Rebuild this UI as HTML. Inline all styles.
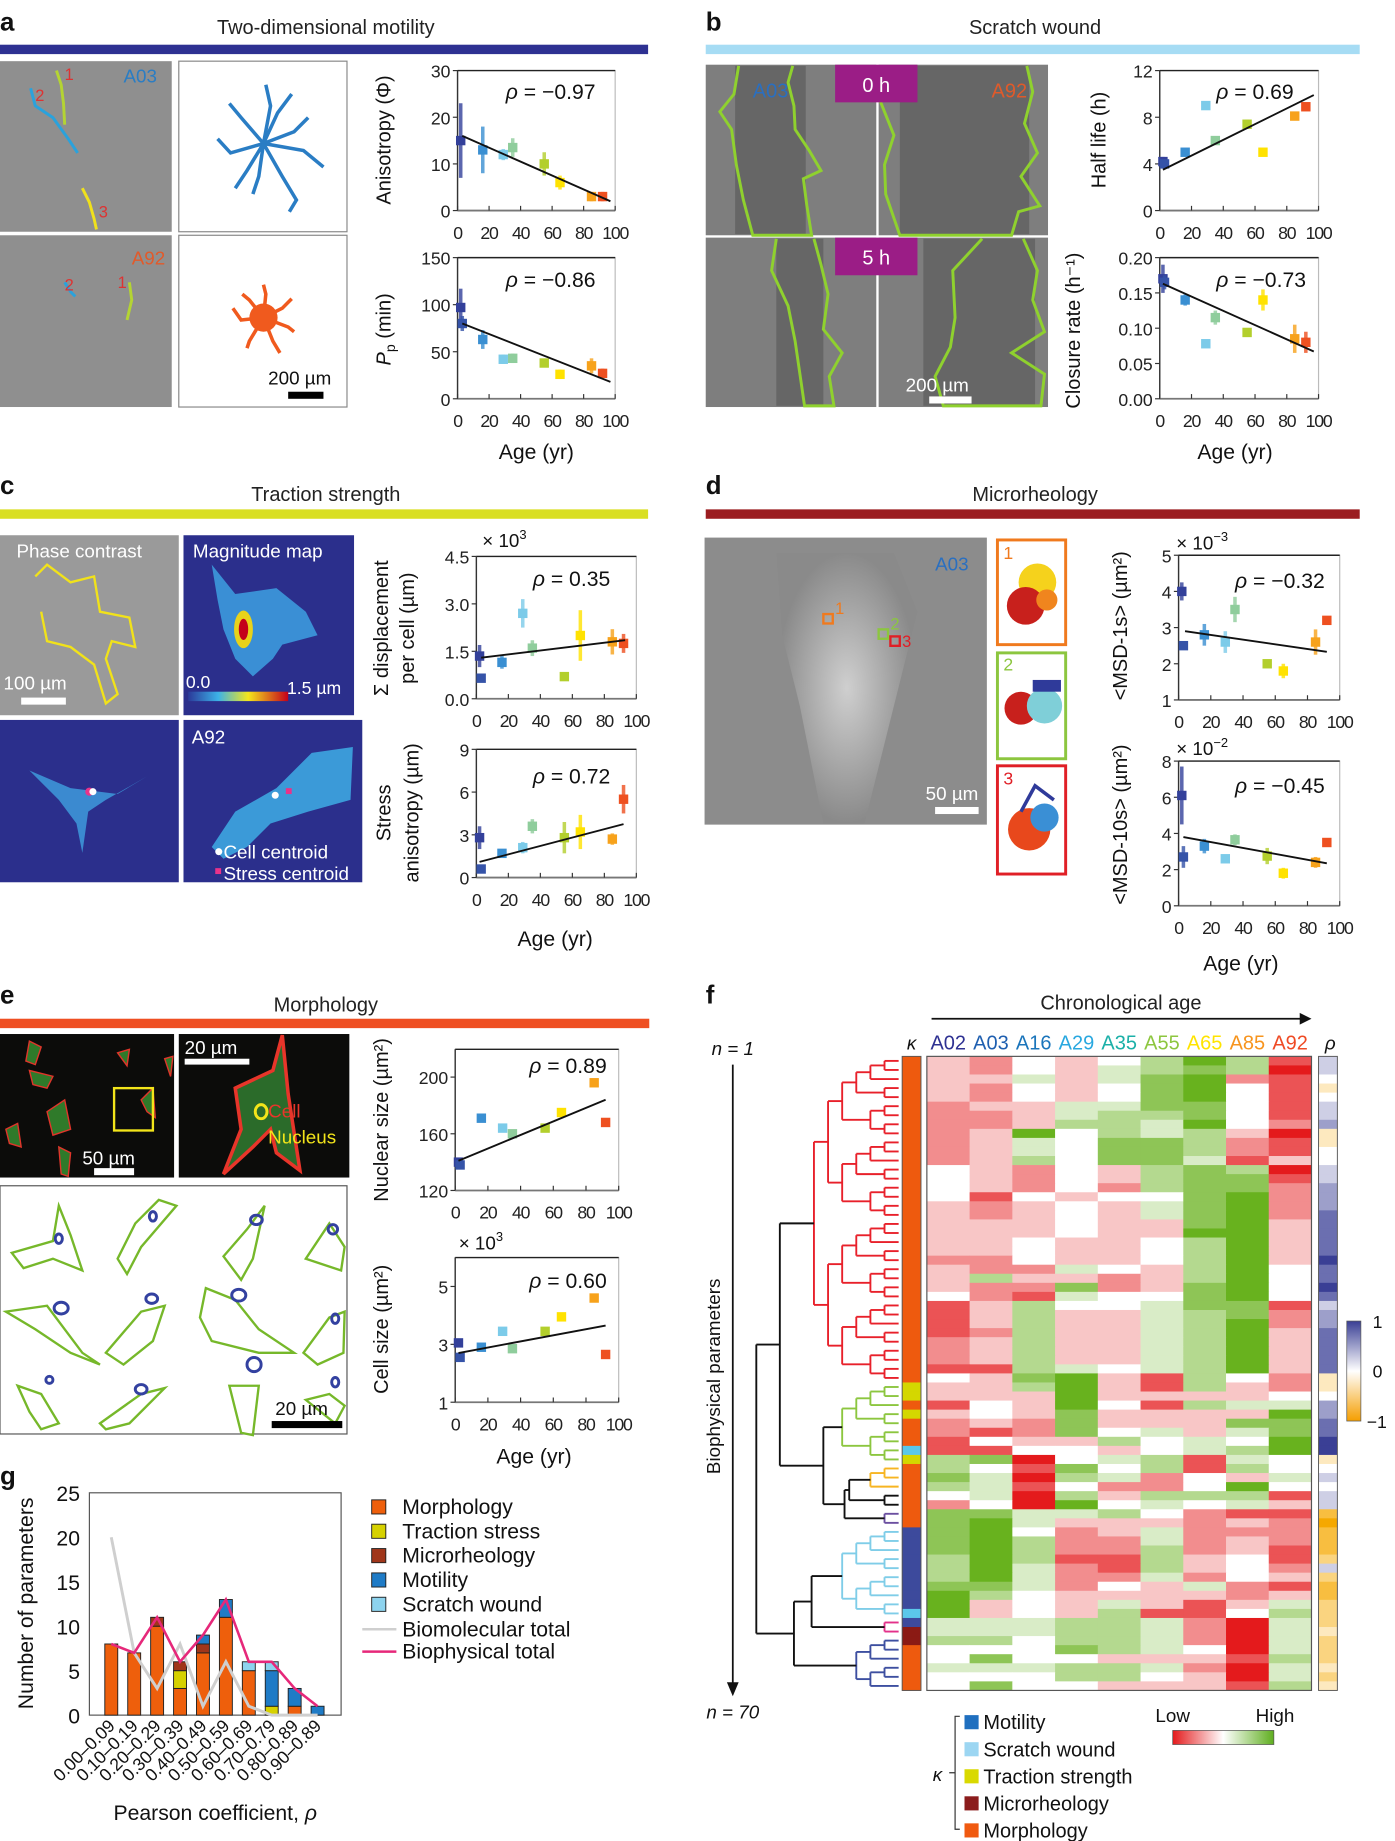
<!DOCTYPE html>
<html><head><meta charset="utf-8"><title>Biophysical ageing figure</title>
<style>
html,body{margin:0;padding:0;background:#fff;}
svg{display:block;font-family:"Liberation Sans Narrow","Liberation Sans",sans-serif;}
.t{font-size:16px;fill:#222;}
.tk{font-size:15px;fill:#222;}
.ttl{font-size:17px;fill:#222;text-anchor:middle;}
.pl{font-size:22px;font-weight:bold;fill:#111;font-family:"Liberation Sans",sans-serif;}
</style></head>
<body>
<svg id="fig" width="1395" height="1841" viewBox="0 0 1186 1565" preserveAspectRatio="none" xmlns="http://www.w3.org/2000/svg">
<defs>
<linearGradient id="gr" x1="0" x2="1" y1="0" y2="0"><stop offset="0" stop-color="#e41a1c"/><stop offset="0.5" stop-color="#ffffff"/><stop offset="1" stop-color="#5fae1f"/></linearGradient>
<linearGradient id="gp" x1="0" x2="0" y1="0" y2="1"><stop offset="0" stop-color="#3a3f95"/><stop offset="0.5" stop-color="#ffffff"/><stop offset="1" stop-color="#f59e00"/></linearGradient>
<linearGradient id="gjet" x1="0" x2="1"><stop offset="0" stop-color="#2b3a9a"/><stop offset="0.3" stop-color="#3cb2e8"/><stop offset="0.6" stop-color="#f4e61c"/><stop offset="1" stop-color="#c4001a"/></linearGradient>
<radialGradient id="gcell" cx="0.5" cy="0.5" r="0.5"><stop offset="0" stop-color="#cfcfcf"/><stop offset="1" stop-color="#8a8a8a"/></radialGradient>
</defs>

<!-- ===== panel a header ===== -->
<text class="pl" x="0" y="26">a</text>
<text class="ttl" x="277" y="29">Two-dimensional motility</text>
<rect x="0" y="38" width="551" height="8" fill="#2e3192"/>
<g>
<rect x="0" y="52" width="146" height="145" fill="#8f8f8f"/>
<polyline points="48,60 52,72 54,88 55,106" fill="none" stroke="#b4d433" stroke-width="2.5"/>
<polyline points="26,75 30,90 45,100 58,118 66,130" fill="none" stroke="#2aa2dc" stroke-width="2.5"/>
<polyline points="70,160 76,172 80,186 82,195" fill="none" stroke="#f0e11c" stroke-width="2.5"/>
<text x="30" y="86" font-size="14" fill="#d33">2</text><text x="55" y="68" font-size="14" fill="#d33">1</text><text x="84" y="185" font-size="14" fill="#d33">3</text>
<text x="105" y="70" font-size="16" fill="#2a7dc4">A03</text>
</g>
<g>
<rect x="152" y="52" width="143" height="145" fill="#fff" stroke="#888" stroke-width="1"/>
<g stroke="#2a7dc4" stroke-width="3" fill="none">
<polyline points="224,122 230,90 226,72"/><polyline points="224,122 250,112 262,100"/><polyline points="224,122 258,128 275,142"/>
<polyline points="224,122 240,150 252,170 246,180"/><polyline points="224,122 210,145 200,160"/><polyline points="224,122 196,130 185,118"/>
<polyline points="224,122 205,100 195,88"/><polyline points="224,122 236,96 248,80"/><polyline points="224,122 220,150 215,165"/>
</g></g>
<g>
<rect x="0" y="200" width="146" height="146" fill="#8f8f8f"/>
<polyline points="55,240 60,248 64,252" fill="none" stroke="#2aa2dc" stroke-width="2.5"/>
<polyline points="110,240 112,255 108,272" fill="none" stroke="#b4d433" stroke-width="2.5"/>
<text x="112" y="225" font-size="16" fill="#e25a2a">A92</text>
<text x="55" y="247" font-size="14" fill="#d33">2</text><text x="100" y="245" font-size="14" fill="#d33">1</text>
</g>
<g>
<rect x="152" y="200" width="143" height="146" fill="#fff" stroke="#888" stroke-width="1"/>
<g stroke="#f05a1e" stroke-width="3" fill="none">
<polyline points="224,270 226,250 224,242"/><polyline points="224,270 240,262 248,254"/><polyline points="224,270 245,278 250,282"/>
<polyline points="224,270 232,290 238,300"/><polyline points="224,270 212,290 210,296"/><polyline points="224,270 205,272 198,262"/>
<polyline points="224,270 212,255 206,250"/><circle cx="224" cy="270" r="12" fill="#f05a1e" stroke="none"/>
</g>
<text x="228" y="327" font-size="16" fill="#111">200 µm</text>
<rect x="245" y="333" width="30" height="6" fill="#000"/>
</g>

<!-- ===== panel b header ===== -->
<text class="pl" x="600" y="26">b</text>
<text class="ttl" x="880" y="29">Scratch wound</text>
<rect x="600" y="38" width="556" height="8" fill="#a6dcf4"/>
<g>
<rect x="600" y="55" width="145" height="145" fill="#7e7e7e"/>
<rect x="747" y="55" width="144" height="145" fill="#7e7e7e"/>
<rect x="600" y="202" width="145" height="144" fill="#7e7e7e"/>
<rect x="747" y="202" width="144" height="144" fill="#7e7e7e"/>
<rect x="625" y="56" width="60" height="143" fill="#666"/>
<rect x="765" y="56" width="110" height="143" fill="#666"/>
<rect x="660" y="203" width="40" height="142" fill="#666"/>
<rect x="785" y="203" width="95" height="142" fill="#666"/>
<g fill="none" stroke="#8fd12e" stroke-width="2.5">
<polyline points="628,56 624,80 612,95 622,110 626,140 632,170 640,200 690,200 686,175 683,152 698,145 688,128 676,110 675,90 670,70 674,56 Z"/>
<polyline points="755,56 758,70 748,85 760,115 752,140 753,165 765,200 860,200 866,180 884,175 868,150 882,130 871,105 878,78 873,56 Z"/>
<polyline points="660,203 656,230 670,260 676,290 684,345 709,345 705,320 716,300 700,280 704,250 698,225 692,203 Z"/>
<polyline points="835,203 810,230 812,270 808,295 795,320 802,345 885,345 888,318 860,300 888,282 878,255 882,230 870,203 Z"/>
</g>
<rect x="710" y="55" width="70" height="32" fill="#9b1d86"/>
<text x="745" y="78" font-size="17" fill="#fff" text-anchor="middle">0 h</text>
<rect x="710" y="202" width="70" height="32" fill="#9b1d86"/>
<text x="745" y="225" font-size="17" fill="#fff" text-anchor="middle">5 h</text>
<text x="640" y="83" font-size="17" fill="#2a6fc0">A03</text>
<text x="843" y="83" font-size="17" fill="#e05a2a">A92</text>
<text x="770" y="333" font-size="16" fill="#fff">200 µm</text>
<rect x="790" y="337" width="36" height="6" fill="#fff"/>
</g>

<!-- ===== panel c header ===== -->
<text class="pl" x="0" y="420">c</text>
<text class="ttl" x="277" y="426">Traction strength</text>
<rect x="0" y="433" width="551" height="8" fill="#d9df23"/>
<g>
<rect x="0" y="455" width="152" height="153" fill="#9a9a9a"/>
<polyline points="30,490 40,480 60,495 80,490 85,520 110,525 115,550 95,545 90,560 100,590 90,598 80,565 60,550 40,545 35,520 Z" fill="none" stroke="#f1e21a" stroke-width="2"/>
<text x="14" y="474" font-size="16" fill="#fff">Phase contrast</text>
<text x="3" y="586" font-size="16" fill="#fff">100 µm</text>
<rect x="18" y="593" width="38" height="6" fill="#fff"/>
<rect x="156" y="455" width="145" height="153" fill="#2b2f8c"/>
<polygon points="180,480 200,505 235,500 260,520 270,540 240,548 232,560 215,575 200,560 190,535 185,510" fill="#3a8fd5"/>
<ellipse cx="207" cy="535" rx="8" ry="16" fill="#e8d21a"/><ellipse cx="207" cy="535" rx="4" ry="9" fill="#c4001a"/>
<text x="164" y="474" font-size="16" fill="#fff">Magnitude map</text>
<rect x="160" y="588" width="85" height="8" fill="url(#gjet)"/>
<text x="158" y="585" font-size="15" fill="#fff">0.0</text><text x="244" y="590" font-size="15" fill="#fff">1.5 µm</text>
<rect x="0" y="612" width="152" height="138" fill="#2b2f8c"/>
<polygon points="25,655 60,670 100,675 125,660 90,680 75,690 70,725 65,700 50,680" fill="#3b8ad0"/>
<circle cx="76" cy="673" r="3.5" fill="#e8338a"/><circle cx="79" cy="673" r="3" fill="#fff"/>
<rect x="156" y="612" width="152" height="138" fill="#2b2f8c"/>
<polygon points="180,720 200,690 235,670 265,640 300,635 298,680 262,690 230,700 210,720 190,730" fill="#3b9ad8"/>
<circle cx="234" cy="676" r="3" fill="#fff"/><rect x="243" y="670" width="5" height="5" fill="#e8338a"/>
<text x="163" y="632" font-size="16" fill="#fff">A92</text>
<circle cx="186" cy="724" r="3" fill="#fff"/><text x="190" y="730" font-size="16" fill="#fff">Cell centroid</text>
<rect x="183" y="738" width="5" height="5" fill="#e8338a"/><text x="190" y="748" font-size="16" fill="#fff">Stress centroid</text>
</g>

<!-- ===== panel d header ===== -->
<text class="pl" x="600" y="420">d</text>
<text class="ttl" x="880" y="426">Microrheology</text>
<rect x="600" y="433" width="556" height="8" fill="#9b1c20"/>
<g>
<rect x="599" y="457" width="240" height="244" fill="#8c8c8c"/>
<polygon points="660,470 760,470 780,520 760,600 735,700 700,700 680,600 665,540" fill="url(#gcell)"/>
<text x="795" y="485" font-size="16" fill="#2a6fc0">A03</text>
<rect x="700" y="522" width="8" height="8" fill="none" stroke="#f07a1e" stroke-width="2"/><text x="710" y="522" font-size="14" fill="#f07a1e">1</text>
<rect x="747" y="535" width="8" height="8" fill="none" stroke="#8cc63f" stroke-width="2"/><text x="757" y="535" font-size="14" fill="#8cc63f">2</text>
<rect x="757" y="541" width="8" height="8" fill="none" stroke="#e01f26" stroke-width="2"/><text x="767" y="550" font-size="14" fill="#e01f26">3</text>
<text x="787" y="680" font-size="16" fill="#fff">50 µm</text><rect x="795" y="686" width="37" height="6" fill="#fff"/>
<rect x="848" y="459" width="58" height="89" fill="#fff" stroke="#f07a1e" stroke-width="2.5"/>
<circle cx="882" cy="495" r="16" fill="#f5d21c"/><circle cx="872" cy="515" r="16" fill="#c8201c"/><circle cx="890" cy="510" r="9" fill="#f0851e"/>
<text x="853" y="475" font-size="15" fill="#f07a1e">1</text>
<rect x="848" y="555" width="58" height="90" fill="#fff" stroke="#8cc63f" stroke-width="2.5"/>
<circle cx="868" cy="602" r="14" fill="#c8201c"/><circle cx="888" cy="600" r="15" fill="#7fcfd8"/><rect x="878" y="578" width="24" height="10" fill="#2f3a9a"/>
<text x="853" y="570" font-size="15" fill="#8cc63f">2</text>
<rect x="848" y="651" width="58" height="92" fill="#fff" stroke="#e01f26" stroke-width="2.5"/>
<circle cx="875" cy="705" r="18" fill="#e8481c"/><circle cx="888" cy="695" r="12" fill="#3a8fd5"/><polyline points="868,690 880,668 896,680" fill="none" stroke="#2f3a9a" stroke-width="3"/>
<text x="853" y="667" font-size="15" fill="#e01f26">3</text>
</g>

<!-- ===== panel e header ===== -->
<text class="pl" x="0" y="853">e</text>
<text class="ttl" x="277" y="860">Morphology</text>
<rect x="0" y="866" width="552" height="8" fill="#ef4f22"/>
<g>
<rect x="0" y="879" width="148" height="122" fill="#0c0c0a"/>
<g fill="#2f7a2a" stroke="#e0352a" stroke-width="1.2">
<polygon points="25,885 35,890 30,905 22,902"/><polygon points="25,910 45,915 40,925 28,922"/><polygon points="40,945 55,935 60,960 45,965"/>
<polygon points="100,895 110,892 108,906"/><polygon points="140,900 147,898 145,915"/><polygon points="120,935 130,925 132,950 125,945"/>
<polygon points="5,960 15,955 18,975 8,972"/><polygon points="50,975 60,980 58,1000 52,998"/>
</g>
<rect x="97" y="925" width="33" height="36" fill="none" stroke="#f3e51a" stroke-width="2"/>
<text x="70" y="990" font-size="16" fill="#fff">50 µm</text><rect x="80" y="993" width="34" height="6" fill="#fff"/>
<rect x="152" y="879" width="145" height="122" fill="#0c0c0a"/>
<polygon points="200,925 232,910 240,880 245,930 255,995 235,980 230,960 215,975 190,998 205,960" fill="#2b6b2a" stroke="#e8352a" stroke-width="3"/>
<ellipse cx="222" cy="945" rx="5" ry="6" fill="none" stroke="#f3e51a" stroke-width="2.5"/>
<text x="157" y="896" font-size="16" fill="#fff">20 µm</text><rect x="157" y="900" width="55" height="5" fill="#fff"/>
<text x="228" y="950" font-size="16" fill="#e8352a">Cell</text>
<text x="228" y="972" font-size="16" fill="#f3e51a">Nucleus</text>
<rect x="0" y="1008" width="295" height="211" fill="#fff" stroke="#555" stroke-width="1"/>
<g fill="none" stroke="#76b82a" stroke-width="2">
<polygon points="10,1065 45,1055 50,1025 60,1050 70,1080 45,1070 20,1078"/><polygon points="100,1070 115,1040 135,1020 150,1025 120,1060 108,1083"/>
<polygon points="190,1068 210,1045 225,1025 215,1070 205,1088"/><polygon points="260,1070 280,1040 293,1060 290,1080 275,1075"/>
<polygon points="5,1115 40,1110 70,1150 85,1160 60,1150 30,1130"/><polygon points="90,1150 120,1115 140,1110 130,1140 105,1160"/>
<polygon points="175,1095 200,1105 220,1130 250,1150 220,1150 180,1140 170,1120"/><polygon points="258,1150 280,1120 293,1115 292,1150 270,1160"/>
<polygon points="15,1178 35,1185 50,1210 35,1215 25,1200"/><polygon points="85,1210 120,1185 140,1180 110,1210 90,1215"/>
<polygon points="195,1178 220,1178 215,1220 205,1218"/><polygon points="260,1190 280,1185 293,1195 285,1210"/>
</g>
<g fill="none" stroke="#3341a0" stroke-width="2.5">
<ellipse cx="50" cy="1053" rx="3" ry="4"/><ellipse cx="130" cy="1034" rx="3" ry="4"/><ellipse cx="218" cy="1037" rx="5" ry="4"/><ellipse cx="283" cy="1045" rx="4" ry="4"/>
<ellipse cx="52" cy="1112" rx="6" ry="5"/><ellipse cx="129" cy="1104" rx="5" ry="4"/><ellipse cx="203" cy="1101" rx="6" ry="5"/><ellipse cx="285" cy="1121" rx="3" ry="4"/>
<ellipse cx="42" cy="1173" rx="3" ry="3"/><ellipse cx="120" cy="1181" rx="5" ry="4"/><ellipse cx="216" cy="1160" rx="6" ry="6"/><ellipse cx="285" cy="1175" rx="3" ry="4"/>
</g>
<text x="234" y="1203" font-size="16" fill="#111">20 µm</text><rect x="231" y="1208" width="60" height="6" fill="#000"/>
</g>

<g id="charts"></g>
<g id="gchart"></g>
<g id="heat"></g>

<!-- ===== panel f static ===== -->
<text class="pl" x="600" y="853">f</text>
<text class="ttl" x="953" y="858">Chronological age</text>
<line x1="792" y1="866" x2="1108" y2="866" stroke="#111" stroke-width="1.5"/>
<polygon points="1115,866 1105,861 1105,871" fill="#111"/>
<text x="775" y="892" font-size="16" text-anchor="middle" font-style="italic" fill="#111">κ</text>
<text x="1131" y="892" font-size="16" text-anchor="middle" font-style="italic" fill="#111">ρ</text>
<text x="623" y="897" font-size="16" text-anchor="middle" font-style="italic" fill="#111">n = 1</text>
<line x1="623" y1="905" x2="623" y2="1432" stroke="#111" stroke-width="1.5"/>
<polygon points="623,1442 618,1430 628,1430" fill="#111"/>
<text x="623" y="1461" font-size="16" text-anchor="middle" font-style="italic" fill="#111">n = 70</text>
<text transform="translate(612,1170) rotate(-90)" font-size="16" text-anchor="middle" fill="#111">Biophysical parameters</text>
<rect x="1145" y="1123" width="12" height="85" fill="url(#gp)" stroke="#555" stroke-width="0.6"/>
<text x="1167" y="1129" font-size="15" fill="#111">1</text>
<text x="1167" y="1171" font-size="15" fill="#111">0</text>
<text x="1162" y="1214" font-size="15" fill="#111">−1</text>
<text x="997" y="1464" font-size="16" text-anchor="middle" fill="#111">Low</text>
<text x="1084" y="1464" font-size="16" text-anchor="middle" fill="#111">High</text>
<rect x="997" y="1471" width="86" height="12" fill="url(#gr)" stroke="#555" stroke-width="0.6"/>
<g>
<path d="M816,1459 h-4 v96 h4 M812,1507 h-5" fill="none" stroke="#333" stroke-width="1"/>
<text x="793" y="1514" font-size="16" font-style="italic" fill="#111">κ</text>
<rect x="820" y="1458" width="12" height="12" fill="#1f6fbf"/><text x="836" y="1470" font-size="17" fill="#111">Motility</text>
<rect x="820" y="1481" width="12" height="12" fill="#9cd6f2"/><text x="836" y="1493" font-size="17" fill="#111">Scratch wound</text>
<rect x="820" y="1504" width="12" height="12" fill="#d9d900"/><text x="836" y="1516" font-size="17" fill="#111">Traction strength</text>
<rect x="820" y="1527" width="12" height="12" fill="#8b1c1c"/><text x="836" y="1539" font-size="17" fill="#111">Microrheology</text>
<rect x="820" y="1550" width="12" height="12" fill="#f05a10"/><text x="836" y="1562" font-size="17" fill="#111">Morphology</text>
</g>
<text class="pl" x="0" y="1262">g</text>
</svg>

<script>
// ======= scatter chart data =======
const ages = [2, 3, 16, 29, 35, 55, 65, 85, 92];
const ageColors = ['#33409a','#3553a8','#3a8fd2','#7ccbe9','#8fcd9c','#b3cf2c','#ffe200','#f7a21b','#ee5020'];
const xTicks = [0, 20, 40, 60, 80, 100];

const anisoVals = [15, null, 13, 12, 13.5, 10, 6, 3, 3];
const anisoErr  = [8, 0, 5, 1.2, 2, 2.5, 1.5, 1, 1];
const anisoFit  = [3, 16, 97, 2];
const ppVals = [97, 80, 63, 42, 43, 38, 26, 35, 27];
const ppErr  = [20, 8, 10, 5, 5, 4, 5, 8, 5];
const ppFit  = [3, 80, 97, 18];
const halfVals = [4.2, 4.0, 5.0, 9.0, 6.0, 7.4, 5.0, 8.1, 8.9];
const halfErr  = [0.4, 0.3, 0.3, 0.3, 0.3, 0.4, 0.3, 0.3, 0.3];
const halfFit  = [2, 3.5, 97, 9.9];
const closeVals = [0.17, 0.165, 0.14, 0.078, 0.115, 0.094, 0.14, 0.085, 0.08];
const closeErr  = [0.02, 0.01, 0.008, 0.006, 0.01, 0.006, 0.015, 0.02, 0.015];
const closeFit  = [2, 0.163, 97, 0.067];
const dispVals = [1.35, 0.65, 1.15, 2.7, 1.6, 0.7, 2.0, 1.8, 1.75];
const dispErr  = [0.35, 0.1, 0.2, 0.45, 0.25, 0.12, 0.8, 0.4, 0.3];
const dispFit  = [3, 1.3, 93, 1.85];
const stressVals = [2.8, 0.6, 1.7, 2.1, 3.6, 2.8, 3.2, 2.7, 5.5];
const stressErr  = [0.8, 0.2, 0.3, 0.4, 0.5, 1.1, 1.2, 0.4, 1.0];
const stressFit  = [2, 1.1, 92, 3.75];
const msd1Vals = [4.0, 2.5, 2.8, 2.6, 3.5, 2.0, 1.8, 2.6, 3.2];
const msd1Err  = [0.25, 0.08, 0.3, 0.3, 0.35, 0.1, 0.2, 0.35, 0.12];
const msd1Fit  = [4, 2.9, 92, 2.33];
const msd10Vals = [6.1, 2.7, 3.3, 2.6, 3.65, 2.75, 1.8, 2.4, 3.5];
const msd10Err  = [1.6, 0.6, 0.4, 0.2, 0.3, 0.45, 0.3, 0.3, 0.2];
const msd10Fit  = [3, 3.8, 92, 2.35];
const nucVals = [140, 138, 171, 164, 160, 164, 175, 196, 168];
const nucErr  = [2, 2, 2, 2, 2, 2.5, 3, 3, 2];
const nucFit  = [2, 141, 92, 184];
const cellVals = [3.05, 2.55, 2.9, 3.45, 2.85, 3.45, 3.95, 4.6, 2.65];
const cellErr  = [0.08, 0.08, 0.08, 0.08, 0.08, 0.12, 0.15, 0.15, 0.08];
const cellFit  = [2, 2.7, 92, 3.65];

// ======= histogram (g) data =======
const gCats = ['0.00–0.09','0.10–0.19','0.20–0.29','0.30–0.39','0.40–0.49','0.50–0.59','0.60–0.69','0.70–0.79','0.80–0.89','0.90–0.89'];
const gMorph   = [8, 7, 10, 3, 7, 11, 5, 0, 1, 0];
const gTrac    = [0, 0, 0, 2, 0, 0, 0, 1, 0, 0];
const gMicro   = [0, 0, 1, 1, 1, 0, 0, 0, 0, 0];
const gMot     = [0, 0, 0, 0, 1, 2, 0, 4, 2, 1];
const gScratch = [0, 0, 0, 0, 0, 0, 1, 1, 0, 0];
const gBiomol  = [20, 7, 3, 8, 1, 6, 1, 0, 0, 0];
const gYTicks  = [0, 5, 10, 15, 20, 25];

// ======= heatmap (f) data: 0 = low (red), 4 = mid (white), 8 = high (green) =======
const heatCols = ['A02','A03','A16','A29','A35','A55','A65','A85','A92'];
const heatColColors = ['#2e3192','#1f5fb0','#1b75bb','#29a8e0','#1bb0a8','#8dc63f','#ffe400','#f7941d','#ef4a24'];
const heatRows = [
'324346861','324356760','335357821','324347841','324347841','233557741','223566741','223665842',
'238465630','235477621','235477621','236477513','432436760','432436771','432426772','414344782',
'323435782','323435782','333433783','333433883','334334683','334334683','224334683','322543684',
'363323684','322723784','421544784','136445771','136335672','136335682','126335683','236335683',
'236335683','236335683','116545683','437831642','336831632','333833334','143841655','343733338',
'232733377','212745357','143364548','114434568','670456154','641746164','750652435','651422484',
'450636661','240845453','775564211','785333232','784235222','786225232','786226231','686116341',
'685216342','685225243','775243521','864333323','834353135','834361146','555665205','555665205',
'664665205','444765405','474433316','555665205','444664305','474433316'];
const kappaRows = 'MMMMMMMMMMMMMMMMMMMMMMMMMMMMMMMMMMMMTTMTMMMSTMMMMMMMLLLLLLLLLSLRRMMMMM';
const rhoRows = [5,5,4,3,4,5,5,6,3,3,4,4,5,5,6,6,6,7,7,7,7,7,8,7,7,8,7,5,6,6,7,7,7,7,7,3,3,4,6,6,7,7,8,8,3,4,5,4,5,5,1,0,1,1,1,2,5,2,1,1,2,2,2,3,2,2,2,3,2,3];

// ======= drawing =======
const NS = 'http://www.w3.org/2000/svg';
function mk(tag, attrs, parent){ const e=document.createElementNS(NS,tag); for(const k in attrs) e.setAttribute(k,attrs[k]); parent.appendChild(e); return e; }
function mkText(str, attrs, parent){ const e=mk('text',attrs,parent); e.textContent=str; return e; }

const chartsG = document.getElementById('charts');

function scatter(name, geo, ymin, ymax, yTicks, yFmt, vals, errs, fit, rho, opts){
  const g = mk('g', {}, chartsG);
  
  
  const sx = v => geo.L + (v/100)*(geo.R-geo.L);
  const sy = v => geo.B - (v-ymin)/(ymax-ymin)*(geo.B-geo.T);
  const frame = mk('rect', {x:geo.L, y:geo.T, width:geo.R-geo.L, height:geo.B-geo.T, fill:'none', stroke:'#bbb', 'stroke-width':1}, g);
  
  
  const topLine = mk('line', {x1:geo.L, y1:geo.T, x2:geo.R, y2:geo.T, stroke:'#222', 'stroke-width':1.2}, g);
  
  
  const yax = mk('line', {x1:geo.L, y1:geo.T, x2:geo.L, y2:geo.B, stroke:'#333', 'stroke-width':1.2}, g);
  
  
  const xax = mk('line', {x1:geo.L, y1:geo.B, x2:geo.R, y2:geo.B, stroke:'#777', 'stroke-width':1.5}, g);
  
  
  yTicks.forEach(t => {
    const tl = mkText(yFmt(t), {x:geo.L-6, y:sy(t)+6, 'text-anchor':'end', class:'tk', 'font-size':17}, g);
    
    
    const tm = mk('line', {x1:geo.L-4, y1:sy(t), x2:geo.L, y2:sy(t), stroke:'#333'}, g);
    
    
  });
  xTicks.forEach(t => {
    const tl = mkText(String(t), {x:sx(t), y:geo.B+24, 'text-anchor':'middle', class:'tk', 'font-size':17, 'letter-spacing':'-1'}, g);
    
    
    const tm = mk('line', {x1:sx(t), y1:geo.B, x2:sx(t), y2:geo.B-4, stroke:'#333'}, g);
    
    
  });
  vals.forEach((v,i) => {
    if (v === null) return;
    const c = ageColors[i];
    const eb = mk('line', {x1:sx(ages[i]), y1:sy(v-errs[i]), x2:sx(ages[i]), y2:sy(v+errs[i]), stroke:c, 'stroke-width':3, opacity:0.8}, g);
    
    
    const pt = mk('rect', {x:sx(ages[i])-4, y:sy(v)-4, width:8, height:8, fill:c}, g);
    
    
  });
  const fl = mk('line', {x1:sx(fit[0]), y1:sy(fit[1]), x2:sx(fit[2]), y2:sy(fit[3]), stroke:'#111', 'stroke-width':1.6}, g);
  
  
  const rt = mkText('', {x:opts.rx, y:opts.ry, 'font-size':18, fill:'#111'}, g);
  
  
  const ri = mk('tspan', {'font-style':'italic'}, rt); ri.textContent='ρ';
  const rv = mk('tspan', {}, rt); rv.textContent=' = '+rho;
  (opts.ylab||[]).forEach(l => {
    const yl = mkText(l[0], {transform:'translate('+l[1]+','+l[2]+') rotate(-90)', 'text-anchor':'middle', 'font-size':17, fill:'#111'}, g);
    
    
    if (l[3]) {
      yl.textContent = '';
      const a = mk('tspan', {'font-style':'italic'}, yl); a.textContent = 'P';
      const b = mk('tspan', {dy:4, 'font-size':12}, yl); b.textContent = 'p';
      const c = mk('tspan', {dy:-4}, yl); c.textContent = ' (min)';
    }
  });
  if (opts.mult){
    const mt = mkText('× 10', {x:opts.mult[0], y:opts.mult[1], 'font-size':16, fill:'#111'}, g);
    
    
    const sp = mk('tspan', {dy:-7, 'font-size':11}, mt); sp.textContent = opts.mult[2];
  }
  if (opts.age){
    const at = mkText('Age (yr)', {x:opts.age[0], y:opts.age[1], 'text-anchor':'middle', 'font-size':18, fill:'#111'}, g);
    
    
  }
}
const f0 = t => String(t);
scatter('anisotropy-chart', {L:389,R:523,T:60,B:179}, 0, 30, [0,10,20,30], f0, anisoVals, anisoErr, anisoFit, '−0.97', {rx:430, ry:84, ylab:[['Anisotropy (Φ)',332,119]]});
scatter('persistence-chart', {L:389,R:523,T:219,B:339}, 0, 150, [0,50,100,150], f0, ppVals, ppErr, ppFit, '−0.86', {rx:430, ry:244, ylab:[['Pp (min)',332,280,true]], age:[456,390]});
scatter('half-life-chart', {L:986,R:1121,T:60,B:179}, 0, 12, [0,4,8,12], f0, halfVals, halfErr, halfFit, '0.69', {rx:1034, ry:84, ylab:[['Half life (h)',940,119]]});
scatter('closure-rate-chart', {L:986,R:1121,T:219,B:339}, 0, 0.2, [0,0.05,0.1,0.15,0.2], t=>t.toFixed(2), closeVals, closeErr, closeFit, '−0.73', {rx:1034, ry:244, ylab:[['Closure rate (h⁻¹)',918,281]], age:[1050,390]});
scatter('displacement-chart', {L:405,R:541,T:473,B:594}, 0, 4.5, [0,1.5,3,4.5], t=>t.toFixed(1), dispVals, dispErr, dispFit, '0.35', {rx:453, ry:498, mult:[410,465,'3'], ylab:[['Σ displacement',330,534],['per cell (µm)',352,534]]});
scatter('stress-anisotropy-chart', {L:405,R:541,T:637,B:746}, 0, 9, [0,3,6,9], f0, stressVals, stressErr, stressFit, '0.72', {rx:453, ry:666, ylab:[['Stress',332,691],['anisotropy (µm)',356,691]], age:[472,804]});
scatter('msd-1s-chart', {L:1002,R:1139,T:472,B:595}, 1, 5, [1,2,3,4,5], f0, msd1Vals, msd1Err, msd1Fit, '−0.32', {rx:1050, ry:500, mult:[1000,467,'−3'], ylab:[['<MSD-1s> (µm²)',958,532]]});
scatter('msd-10s-chart', {L:1002,R:1139,T:647,B:770}, 0, 8, [0,2,4,6,8], f0, msd10Vals, msd10Err, msd10Fit, '−0.45', {rx:1050, ry:674, mult:[1000,642,'−2'], ylab:[['<MSD-10s> (µm²)',958,701]], age:[1055,825]});
scatter('nuclear-size-chart', {L:387,R:526,T:892,B:1012}, 120, 219.6, [120,160,200], f0, nucVals, nucErr, nucFit, '0.89', {rx:450, ry:912, ylab:[['Nuclear size (µm²)',330,952]]});
scatter('cell-size-chart', {L:387,R:526,T:1069,B:1192}, 1, 6, [1,3,5], f0, cellVals, cellErr, cellFit, '0.60', {rx:450, ry:1095, mult:[390,1062,'3'], ylab:[['Cell size (µm²)',330,1130]], age:[454,1244]});

// ======= histogram g =======
(function(){
  const g = document.getElementById('gchart');
  const L=76, R=290, T=1269, B=1458, ymax=25;
  const sy = v => B - v/ymax*(B-T);
  const step = (270-94.6)/(gCats.length-1);
  const cx = i => 94.6 + i*step;
  const frame = mk('rect', {x:L, y:T, width:R-L, height:B-T, fill:'none', stroke:'#555', 'stroke-width':1}, g);
  
  
  gYTicks.forEach(t => {
    const tl = mkText(String(t), {x:L-8, y:sy(t)+7, 'text-anchor':'end', 'font-size':18, fill:'#111'}, g);
    
    
  });
  const series = [[gMorph,'#ee5f0c','morphology'],[gTrac,'#d6d100','traction'],[gMicro,'#a0361a','microrheology'],[gMot,'#1f7bc6','motility'],[gScratch,'#8dd3ee','scratch']];
  gCats.forEach((c,i) => {
    let acc = 0;
    series.forEach(s => {
      const v = s[0][i];
      if (v > 0){
        const r = mk('rect', {x:cx(i)-5.5, y:sy(acc+v), width:11, height:sy(acc)-sy(acc+v), fill:s[1], stroke:'#222', 'stroke-width':0.8}, g);
        
        
      }
      acc += v;
    });
    const tl = mkText(c, {transform:'translate('+(cx(i)+4)+','+(B+10)+') rotate(-45)', 'text-anchor':'end', 'font-size':15, fill:'#111'}, g);
    
    
  });
  const bioPts = gBiomol.map((v,i) => cx(i)+','+sy(v)).join(' ');
  const bl = mk('polyline', {points:bioPts, fill:'none', stroke:'#cfcfcf', 'stroke-width':2.5}, g);
  
  
  const tot = gCats.map((c,i) => gMorph[i]+gTrac[i]+gMicro[i]+gMot[i]+gScratch[i]);
  const phPts = tot.map((v,i) => cx(i)+','+sy(v)).join(' ');
  const pl = mk('polyline', {points:phPts, fill:'none', stroke:'#e6287a', 'stroke-width':2.2}, g);
  
  
  const yt = mkText('Number of parameters', {transform:'translate(28,1363) rotate(-90)', 'text-anchor':'middle', 'font-size':18, fill:'#111'}, g);
  
  
  const xt = mkText('Pearson coefficient, ', {x:183, y:1547, 'text-anchor':'middle', 'font-size':18, fill:'#111'}, g);
  
  
  const xr = mk('tspan', {'font-style':'italic'}, xt); xr.textContent='ρ';
  const legItems = [['Morphology','#ee5f0c'],['Traction stress','#d6d100'],['Microrheology','#a0361a'],['Motility','#1f7bc6'],['Scratch wound','#8dd3ee']];
  legItems.forEach((it,k) => {
    const y = 1281 + k*20.7;
    const sq = mk('rect', {x:316, y:y-6, width:12, height:12, fill:it[1], stroke:'#222', 'stroke-width':0.8}, g);
    
    
    const lt = mkText(it[0], {x:342, y:y+6, 'font-size':18, fill:'#111'}, g);
    
    
  });
  [['Biomolecular total','#cfcfcf',1385],['Biophysical total','#e6287a',1404]].forEach((it,k) => {
    const ln = mk('line', {x1:308, y1:it[2], x2:337, y2:it[2], stroke:it[1], 'stroke-width':2.2}, g);
    
    
    const lt = mkText(it[0], {x:342, y:it[2]+6, 'font-size':18, fill:'#111'}, g);
    
    
  });
})();

// ======= heatmap f =======
(function(){
  const g = document.getElementById('heat');
  const HL=788, HR=1115, HT=898, HB=1437;
  const nR = heatRows.length, nC = heatCols.length;
  const cw = (HR-HL)/nC, rh = (HB-HT)/nR;
  function mix(a,b,t){ return 'rgb('+a.map((v,i)=>Math.round(v+(b[i]-v)*t)).join(',')+')'; }
  const cRed=[228,26,28], cWhite=[255,255,255], cGreen=[104,178,30];
  const heatColor = d => d < 4 ? mix(cRed, cWhite, d/4) : mix(cWhite, cGreen, (d-4)/4);
  const cNavy=[58,63,149], cOrange=[245,168,0];
  const rhoColor = d => d < 4 ? mix(cOrange, cWhite, d/4) : mix(cWhite, cNavy, (d-4)/4);
  const kColors = {M:'#ee5a0e', T:'#d4d700', S:'#5bc8ea', L:'#3d4a9c', R:'#8b1a14'};
  heatCols.forEach((c,j) => {
    const t = mkText(c, {x:HL+cw*(j+0.5), y:892, 'text-anchor':'middle', 'font-size':17, fill:heatColColors[j]}, g);
    
    
  });
  heatRows.forEach((row,i) => {
    for (let j=0;j<nC;j++){
      const d = +row[j];
      const r = mk('rect', {x:HL+j*cw, y:HT+i*rh, width:cw+0.4, height:rh+0.4, fill:heatColor(d)}, g);
      
      
    }
    const k = mk('rect', {x:767, y:HT+i*rh, width:16, height:rh+0.4, fill:kColors[kappaRows[i]]}, g);
    
    
    const p = mk('rect', {x:1121, y:HT+i*rh, width:16, height:rh+0.4, fill:rhoColor(rhoRows[i])}, g);
    
    
  });
  const fr = mk('rect', {x:HL, y:HT, width:HR-HL, height:HB-HT, fill:'none', stroke:'#555', 'stroke-width':1}, g);
  
  
  const kf = mk('rect', {x:767, y:HT, width:16, height:HB-HT, fill:'none', stroke:'#555', 'stroke-width':0.8}, g);
  
  
  const pf = mk('rect', {x:1121, y:HT, width:16, height:HB-HT, fill:'none', stroke:'#555', 'stroke-width':0.8}, g);
  
  

  // dendrogram
  const leafX = 764, stepX = 12;
  const rowY = i => HT + (i+0.5)*rh;
  function seg(x1,y1,x2,y2,col){
    const l = mk('line', {x1:x1,y1:y1,x2:x2,y2:y2,stroke:col,'stroke-width':1.6}, g);
    
    
  }
  function joinAt(a,b,col,x){
    seg(x,a.y,a.x,a.y,col); seg(x,b.y,b.x,b.y,col); seg(x,a.y,x,b.y,col);
    return {x:x, y:(a.y+b.y)/2};
  }
  function join(a,b,col,gap){ return joinAt(a,b,col,Math.min(a.x,b.x) - gap); }
  function build(lo,hi,col){
    if (lo===hi) return {x:leafX, y:rowY(lo)};
    const m = Math.floor((lo+hi)/2);
    return join(build(lo,m,col), build(m+1,hi,col), col, stepX);
  }
  const treeRed = build(0,35,'#e8202a');
  const treeGrn = build(36,44,'#8cc63f');
  const treeYel = build(45,47,'#f7b521');
  const treeBlk = build(48,49,'#111');
  const treePur = build(50,51,'#6b4fa0');
  const treeCyn = build(52,61,'#7fcde8');
  const treeMag = build(62,63,'#e3318a');
  const treeNav = build(64,69,'#3d4fa0');
  const k1 = joinAt(joinAt(treeYel,treeBlk,'#111',722),treePur,'#111',718);
  const k2 = joinAt(treeGrn,k1,'#111',700);
  const upper = joinAt(treeRed,k2,'#111',663);
  const lower = joinAt(joinAt(treeCyn,treeMag,'#111',690),treeNav,'#111',675);
  joinAt(upper,lower,'#111',643);
})();
</script>
</body></html>
